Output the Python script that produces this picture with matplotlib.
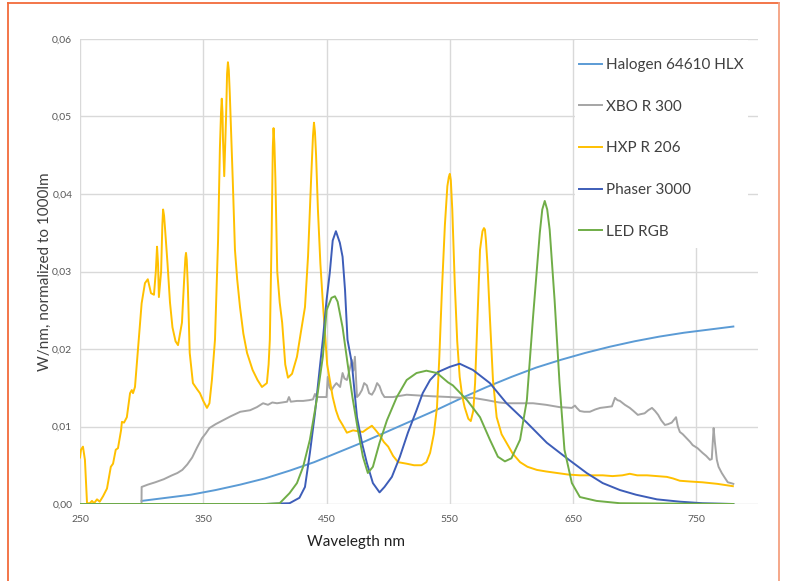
import matplotlib
matplotlib.use("Agg")
import matplotlib.pyplot as plt
from matplotlib.lines import Line2D
from matplotlib.patches import Rectangle

plt.rcParams['font.family'] = ['Lato', 'DejaVu Sans']

# ---------------- data ----------------
series_names = ["Halogen 64610 HLX", "XBO R 300", "HXP R 206", "Phaser 3000", "LED RGB"]

halogen_x = [300, 320, 340, 360, 380, 400, 420, 440, 460, 480, 500, 520, 540, 560,
             580, 600, 620, 640, 660, 680, 700, 720, 740, 760, 780]
halogen_y = [0.0004, 0.0008, 0.0012, 0.0018, 0.0025, 0.0033, 0.0043, 0.0054, 0.0067,
             0.0080, 0.0094, 0.0108, 0.0122, 0.0137, 0.0151, 0.0164, 0.0176, 0.0186,
             0.0195, 0.0203, 0.0210, 0.0216, 0.0221, 0.0225, 0.0229]

xbo_x = [299.9, 300, 305, 311, 318, 324.6, 329, 333, 337, 341, 345, 349, 352, 355, 360,
         366, 372, 380, 388, 393.5, 398.5, 402.5, 406, 409.8, 414, 418, 419.5, 421, 426,
         431, 436, 439, 440.6, 442, 445, 450, 451, 452.5, 454, 456, 458, 461, 463, 464.5,
         466.5, 468.5, 470.5, 471.8, 473, 474.7, 476.5, 478.7, 480.5, 482.7, 484.5, 486.8,
         489, 491, 493, 495, 497, 504, 515, 525, 536, 550, 560, 568.7, 580, 590, 596, 605,
         617.5, 628, 639, 649, 651.5, 653, 655.5, 659, 663.6, 668, 672, 677, 681.5, 684,
         686, 688, 692, 696, 699, 702.5, 705, 708, 711, 714, 716.5, 719, 721.5, 724.5, 727,
         730, 733.5, 735, 736.6, 739, 742, 745, 747, 751, 755, 758, 761, 762.5, 763.5, 764,
         765, 766.6, 768, 770.6, 773, 775.5, 778, 780]
xbo_y = [0.0, 0.0022, 0.0025, 0.0028, 0.0032, 0.0037, 0.0040, 0.0044, 0.0051, 0.0060,
         0.0073, 0.0085, 0.0091, 0.0098, 0.0103, 0.0108, 0.0113, 0.0119, 0.0121, 0.0125,
         0.0130, 0.0128, 0.0131, 0.0130, 0.0131, 0.0132, 0.0138, 0.0132, 0.0133, 0.0133,
         0.0134, 0.0135, 0.0142, 0.0138, 0.0138, 0.0138, 0.0164, 0.0150, 0.0147, 0.0152,
         0.0156, 0.0151, 0.0169, 0.0162, 0.0160, 0.0172, 0.0186, 0.0172, 0.0190, 0.0138,
         0.0141, 0.0147, 0.0156, 0.0153, 0.0143, 0.0141, 0.0147, 0.0156, 0.0152, 0.0143,
         0.0138, 0.0138, 0.0141, 0.0140, 0.0139, 0.0138, 0.0137, 0.0137, 0.0134, 0.0131,
         0.0130, 0.0130, 0.0130, 0.0128, 0.0125, 0.0124, 0.0127, 0.0124, 0.0120, 0.0119,
         0.0119, 0.0122, 0.0124, 0.0125, 0.0126, 0.0137, 0.0134, 0.0133, 0.0128, 0.0124,
         0.0120, 0.0115, 0.0116, 0.0117, 0.0121, 0.0124, 0.0120, 0.0115, 0.0108, 0.0102,
         0.0103, 0.0105, 0.0112, 0.0100, 0.0093, 0.0090, 0.0085, 0.0080, 0.0076, 0.0072,
         0.0066, 0.0062, 0.0057, 0.0058, 0.0085, 0.0098, 0.0080, 0.0057, 0.0048, 0.0040,
         0.0034, 0.0028, 0.0027, 0.0026]

hxp_x = [250, 250.8, 252.4, 254, 255.7, 258, 259.7, 261.4, 263.8, 266, 268.7, 271.9, 275,
         276.8, 279, 280.8, 283.3, 284, 285.7, 288, 290.6, 292, 293, 294.6, 297, 300, 302.7,
         305, 307.6, 310, 311.5, 312.5, 313.3, 314, 315.8, 316.8, 317.4, 318.2, 319, 321,
         323, 325, 327.5, 329.5, 332.7, 334.5, 335.5, 336, 336.6, 337.5, 339, 341.6, 345,
         347.3, 350, 353, 355, 357, 359.5, 362, 363.5, 364.4, 365, 365.6, 366, 367, 368.5,
         369.3, 370, 370.7, 371.5, 373, 374, 375.7, 377.5, 379.8, 382.5, 385.5, 390, 394,
         397.6, 401.6, 403, 404, 405.5, 406.4, 407, 407.7, 408.5, 410, 412, 414, 416.5, 418.7,
         422, 426, 429, 432.5, 435, 437.5, 439, 439.8, 440.6, 441.5, 443, 445, 447, 448.5,
         450.5, 452.6, 455, 457.6, 460, 463, 466.5, 471.5, 475, 479.5, 483, 486.8, 490, 493,
         496.5, 500, 504, 508, 515, 521, 527, 531, 534, 537, 539.6, 541.5, 543.6, 546, 548,
         549.2, 550, 550.8, 552, 554, 556, 558, 560, 562, 565, 567, 569, 570.5, 572, 574.5,
         576.5, 577.7, 578.5, 579.3, 580.5, 582.5, 585, 588, 592, 596, 601, 607, 613, 620.6,
         628, 636.8, 646, 655.5, 665, 674, 682, 690, 696, 702, 710, 718, 726, 731, 736.6,
         745, 755, 767, 779.6]
hxp_y = [0.0060, 0.0070, 0.0074, 0.0057, 0.0001, 0.0001, 0.0004, 0.0001, 0.0006, 0.0003,
         0.0010, 0.0020, 0.0048, 0.0052, 0.0070, 0.0072, 0.0095, 0.0106, 0.0105, 0.0112,
         0.0143, 0.0147, 0.0143, 0.0151, 0.0199, 0.0259, 0.0285, 0.0290, 0.0272, 0.0270,
         0.0300, 0.0332, 0.0310, 0.0267, 0.0300, 0.0360, 0.0380, 0.0372, 0.0355, 0.0310,
         0.0260, 0.0228, 0.0210, 0.0205, 0.0234, 0.0290, 0.0318, 0.0324, 0.0315, 0.0280,
         0.0195, 0.0156, 0.0148, 0.0143, 0.0133, 0.0124, 0.0130, 0.0160, 0.0212, 0.0340,
         0.0460, 0.0505, 0.0523, 0.0505, 0.0470, 0.0423, 0.0500, 0.0555, 0.0570, 0.0560,
         0.0530, 0.0460, 0.0414, 0.0328, 0.0290, 0.0254, 0.0220, 0.0195, 0.0173, 0.0160,
         0.0151, 0.0156, 0.0180, 0.0212, 0.0350, 0.0460, 0.0485, 0.0465, 0.0420, 0.0300,
         0.0260, 0.0234, 0.0180, 0.0163, 0.0168, 0.0190, 0.0220, 0.0254, 0.0320, 0.0420,
         0.0475, 0.0492, 0.0480, 0.0450, 0.0380, 0.0310, 0.0260, 0.0225, 0.0180, 0.0160,
         0.0138, 0.0121, 0.0110, 0.0102, 0.0092, 0.0095, 0.0094, 0.0093, 0.0097, 0.0101,
         0.0095, 0.0089, 0.0080, 0.0074, 0.0062, 0.0054, 0.0052, 0.0050, 0.0050, 0.0054,
         0.0066, 0.0090, 0.0125, 0.0190, 0.0276, 0.0360, 0.0410, 0.0422, 0.0426, 0.0418,
         0.0380, 0.0285, 0.0210, 0.0164, 0.0140, 0.0125, 0.0110, 0.0107, 0.0120, 0.0156,
         0.0220, 0.0328, 0.0352, 0.0356, 0.0354, 0.0340, 0.0310, 0.0241, 0.0160, 0.0112,
         0.0090, 0.0079, 0.0065, 0.0054, 0.0048, 0.0044, 0.0042, 0.0040, 0.0038, 0.0037,
         0.0037, 0.0037, 0.0036, 0.0037, 0.0039, 0.0037, 0.0037, 0.0036, 0.0035, 0.0033,
         0.0030, 0.0029, 0.0028, 0.0026, 0.0023]

phaser_x = [250, 400, 420, 428, 432.5, 436.5, 440.6, 444.6, 447, 450, 452.6, 455, 457.6,
            460.8, 463, 465, 467, 470.5, 474.7, 478.7, 482.7, 487.6, 493, 497, 503, 509.5,
            516, 523, 528, 534, 540, 550, 558, 568.7, 582.5, 596, 612.5, 628.7, 645, 661,
            674, 688, 701, 718, 736.6, 755, 780]
phaser_y = [0.0, 0.0, 0.0001, 0.0008, 0.0022, 0.0066, 0.0117, 0.0177, 0.0212, 0.0263,
            0.0298, 0.0340, 0.0352, 0.0337, 0.0319, 0.0276, 0.0212, 0.0182, 0.0112, 0.0079,
            0.0053, 0.0027, 0.0015, 0.0022, 0.0035, 0.0061, 0.0092, 0.0121, 0.0143, 0.0160,
            0.0170, 0.0177, 0.0181, 0.0173, 0.0156, 0.0130, 0.0105, 0.0079, 0.0059, 0.0040,
            0.0027, 0.0018, 0.0012, 0.0006, 0.0003, 0.0001, 0.0]

led_x = [250, 400, 412, 420, 426, 431, 436.5, 442, 447, 450, 454, 456.8, 459, 463, 467,
         471, 475.5, 479.5, 483.5, 487.6, 493, 499, 507, 515, 523, 531, 539.6, 548.5, 552.5,
         564, 574.5, 582.5, 589, 594.7, 600, 607, 612.5, 617.5, 623, 625, 627, 629, 631, 635,
         639, 643, 649, 655.5, 669, 688, 780]
led_y = [0.0, 0.0, 0.0001, 0.0014, 0.0027, 0.0048, 0.0083, 0.0134, 0.0190, 0.0250,
         0.0266, 0.0268, 0.0261, 0.0228, 0.0182, 0.0138, 0.0095, 0.0061, 0.0040, 0.0048,
         0.0079, 0.0108, 0.0138, 0.0160, 0.0169, 0.0172, 0.0169, 0.0157, 0.0153, 0.0134,
         0.0112, 0.0083, 0.0061, 0.0055, 0.0059, 0.0083, 0.0134, 0.0241, 0.0350, 0.0380,
         0.0391, 0.0380, 0.0354, 0.0263, 0.0156, 0.0070, 0.0027, 0.0009, 0.0004, 0.0001, 0.0]

x_ticks = [250, 350, 450, 550, 650, 750]
y_ticks = [0.00, 0.01, 0.02, 0.03, 0.04, 0.05, 0.06]
y_tick_labels = ["0,00", "0,01", "0,02", "0,03", "0,04", "0,05", "0,06"]

colors = ["#5B9BD5", "#A5A5A5", "#FFC000", "#3D5DB8", "#70AD47"]

# ---------------- figure ----------------
W, H = 787, 581
fig = plt.figure(figsize=(W / 100, H / 100), dpi=100)
fig.patch.set_facecolor("white")

AX_L, AX_R, AX_T, AX_B = 80, 758, 39, 504
ax = fig.add_axes([AX_L / W, 1 - AX_B / H, (AX_R - AX_L) / W, (AX_B - AX_T) / H])
ax.set_facecolor("white")
aw, ah = AX_R - AX_L, AX_B - AX_T

data = [(halogen_x, halogen_y), (xbo_x, xbo_y), (hxp_x, hxp_y),
        (phaser_x, phaser_y), (led_x, led_y)]
for (xs, ys), c, name in zip(data, colors, series_names):
    ax.plot(xs, ys, color=c, lw=1.4, label=name, solid_joinstyle="round", zorder=3)

ax.set_xlim(250, 800)
ax.set_ylim(0, 0.06)
ax.set_xticks(x_ticks)
ax.set_yticks(y_ticks)
ax.set_yticklabels(y_tick_labels)
ax.grid(True, color="#D9D9D9", lw=1.0)
ax.set_axisbelow(True)
for s in ax.spines.values():
    s.set_visible(False)
ax.tick_params(length=0, labelsize=7.5, colors="#595959")
ax.tick_params(axis="y", pad=5.5)
ax.tick_params(axis="x", pad=8)

ax.set_ylabel("W/nm, normalized to 1000lm", fontsize=11, color="#404040")
ax.yaxis.set_label_coords((52 - AX_L) / aw, 0.5)
ax.set_xlabel("Wavelegth nm", fontsize=11, color="#202020")
ax.xaxis.set_label_coords((356 - AX_L) / aw, -(535 - AX_B) / ah)

# white legend area hiding the grid
ax.add_patch(Rectangle(((575 - AX_L) / aw, (AX_B - 248) / ah), (748 - 575) / aw, (248 - 40) / ah,
                       transform=ax.transAxes, facecolor="white", edgecolor="none", zorder=1))

leg = ax.legend(loc="upper left", bbox_to_anchor=((579 - AX_L) / aw, (AX_B - 58) / ah),
                frameon=False, fontsize=11, handlelength=1.5, handletextpad=0.25,
                labelspacing=1.81, borderpad=0.0, borderaxespad=0.0)
for t in leg.get_texts():
    t.set_color("#404040")

# orange frame (left, top, right)
fc = "#F26B3A"
fig.add_artist(Line2D([8 / W, 8 / W], [0, 1 - 3 / H], transform=fig.transFigure, color=fc, lw=1.3))
fig.add_artist(Line2D([8 / W, 779 / W], [1 - 3 / H, 1 - 3 / H], transform=fig.transFigure, color=fc, lw=1.3))
fig.add_artist(Line2D([779 / W, 779 / W], [0, 1 - 3 / H], transform=fig.transFigure, color="#F5A080", lw=1.3))

fig.savefig("out.png", dpi=100)
